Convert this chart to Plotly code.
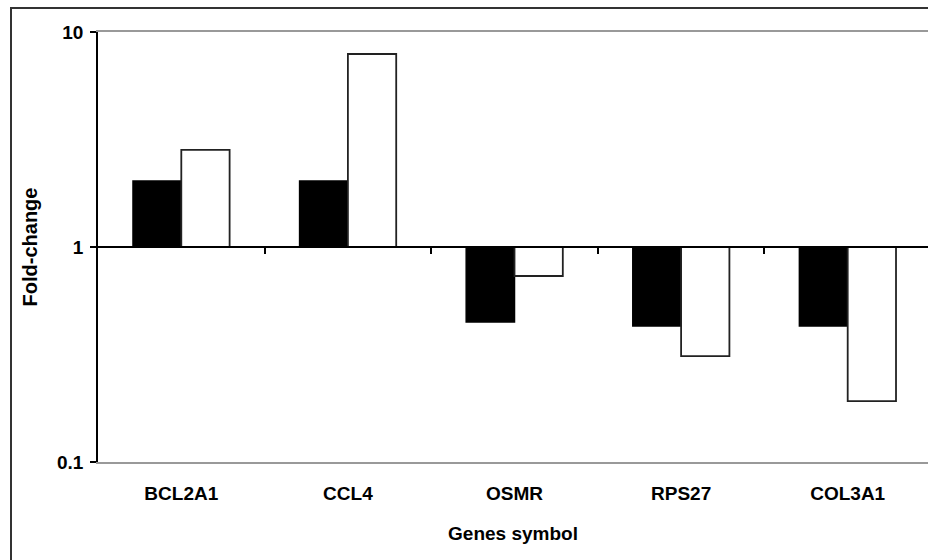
import plotly.graph_objects as go

genes = ["BCL2A1", "CCL4", "OSMR", "RPS27", "COL3A1"]
series_black = [2.03, 2.03, 0.448, 0.429, 0.429]
series_white = [2.83, 7.9, 0.733, 0.311, 0.192]
base_value = 1.0
y_ticks = [0.1, 1, 10]
y_tick_text = ["0.1", "1", "10"]

FONT = "Liberation Sans, Arial, sans-serif"
W, H = 928, 560
ml, mt, mb, mr = 98, 32, 98, 0
plot_h = H - mt - mb

fig = go.Figure()
fig.add_trace(go.Bar(
    x=genes, y=[v - base_value for v in series_black], base=base_value,
    marker=dict(color="black", line=dict(color="black", width=1.5)),
    showlegend=False, xaxis="x", yaxis="y",
))
fig.add_trace(go.Bar(
    x=genes, y=[v - base_value for v in series_white], base=base_value,
    marker=dict(color="white", line=dict(color="#222", width=1.8)),
    showlegend=False, xaxis="x", yaxis="y",
))

x_range = [-0.5, 4.482]

fig.update_layout(
    width=W, height=H,
    margin=dict(l=ml, r=mr, t=mt, b=mb, pad=0),
    paper_bgcolor="white", plot_bgcolor="white",
    barmode="group", bargap=0.42, bargroupgap=0,
    font=dict(family=FONT, color="black"),
    xaxis=dict(
        range=x_range, showgrid=False, zeroline=False,
        showline=True, mirror=True, linecolor="#999", linewidth=1.5,
        ticks="",
        tickfont=dict(size=19, family=FONT, weight="bold"),
        ticklabelstandoff=13,
        title=dict(text="<b>Genes symbol</b>", font=dict(size=19), standoff=24),
    ),
    xaxis2=dict(
        overlaying="x", anchor="free", position=0.5,
        range=x_range, tickmode="array", tickvals=[0.5, 1.5, 2.5, 3.5, 4.5],
        showticklabels=False, ticks="outside", ticklen=6, tickwidth=1.5, tickcolor="black",
        showline=True, linecolor="black", linewidth=1.5,
        showgrid=False, zeroline=False,
    ),
    yaxis=dict(
        type="log", range=[-1, 1],
        tickmode="array", tickvals=y_ticks, ticktext=y_tick_text,
        ticks="outside", ticklen=6, tickwidth=1.5, tickcolor="black",
        showline=True, linecolor="black", linewidth=1.5,
        showgrid=False,
        zeroline=False,
        ticklabelstandoff=3,
        tickfont=dict(size=19, family=FONT, weight="bold"),
        title=dict(text="<b>Fold-change</b>", font=dict(size=20), standoff=14),
    ),
)

# invisible trace to activate xaxis2
fig.add_trace(go.Scatter(x=[genes[0]], y=[1], xaxis="x2", yaxis="y",
                         mode="markers", marker=dict(opacity=0), showlegend=False,
                         hoverinfo="skip"))

# outer chart border (partially cropped, like the reference)
fig.add_shape(type="rect", xref="paper", yref="paper",
              x0=(11 - ml) / (W - ml - mr), x1=1.2,
              y0=-0.4, y1=(H - mb - 8) / plot_h,
              line=dict(color="#333", width=2), fillcolor="rgba(0,0,0,0)", layer="below")

fig.write_html("out.html")
